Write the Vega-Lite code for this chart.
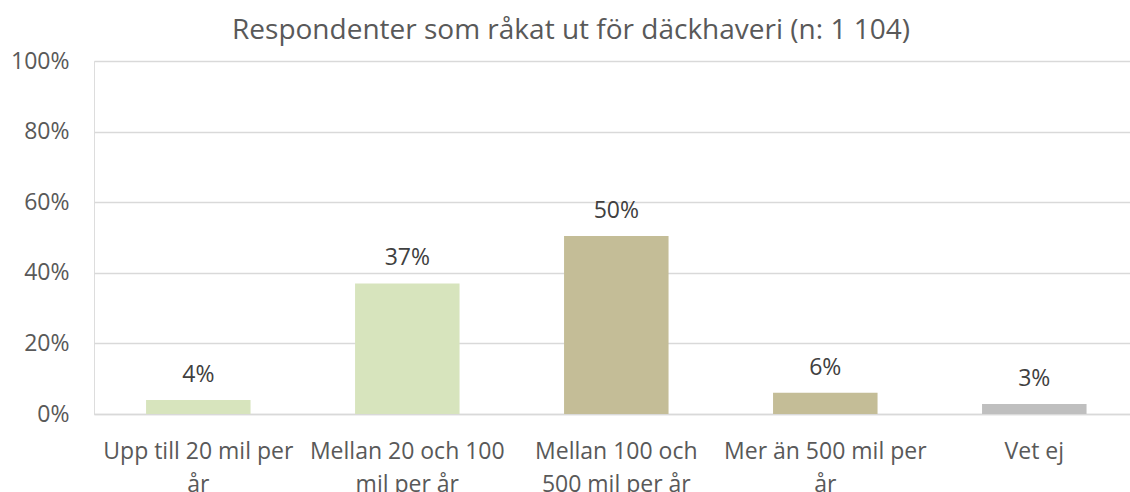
{
  "$schema": "https://vega.github.io/schema/vega-lite/v6.json",
  "autosize": "none",
  "width": 1036,
  "height": 353,
  "padding": {"left": 94, "top": 61, "right": 0, "bottom": 78},
  "background": "white",
  "title": {
    "text": "Respondenter som råkat ut för däckhaveri (n: 1 104)",
    "font": "Open Sans",
    "fontSize": 28,
    "fontWeight": "normal",
    "color": "#595959",
    "anchor": "middle",
    "dx": -41,
    "offset": 5
  },
  "data": {
    "values": [
      {"kategori": "Upp till 20 mil per år", "andel": 0.04, "grupp": "kort"},
      {"kategori": "Mellan 20 och 100 mil per år", "andel": 0.37, "grupp": "kort"},
      {"kategori": "Mellan 100 och 500 mil per år", "andel": 0.504, "grupp": "lång"},
      {"kategori": "Mer än 500 mil per år", "andel": 0.06, "grupp": "lång"},
      {"kategori": "Vet ej", "andel": 0.028, "grupp": "vet ej"}
    ]
  },
  "encoding": {
    "x": {
      "field": "kategori",
      "type": "nominal",
      "sort": null,
      "scale": {"paddingInner": 0.5, "paddingOuter": 0.2285, "align": 0.545},
      "axis": {
        "title": null,
        "labelAngle": 0,
        "labelFont": "Open Sans",
        "labelFontSize": 23,
        "labelColor": "#595959",
        "labelPadding": 26,
        "labelLineHeight": 33,
        "labelBaseline": "top",
        "labelLimit": 300,
        "ticks": false,
        "domain": true,
        "domainColor": "#d9d9d9",
        "domainWidth": 1.5,
        "labelExpr": "datum.label == 'Upp till 20 mil per år' ? ['Upp till 20 mil per', 'år'] : datum.label == 'Mellan 20 och 100 mil per år' ? ['Mellan 20 och 100', 'mil per år'] : datum.label == 'Mellan 100 och 500 mil per år' ? ['Mellan 100 och', '500 mil per år'] : datum.label == 'Mer än 500 mil per år' ? ['Mer än 500 mil per', 'år'] : datum.label"
      }
    },
    "y": {
      "field": "andel",
      "type": "quantitative",
      "scale": {"domain": [0, 1]},
      "axis": {
        "title": null,
        "format": ".0%",
        "values": [0, 0.2, 0.4, 0.6, 0.8, 1],
        "labelFont": "Open Sans",
        "labelFontSize": 23,
        "labelColor": "#595959",
        "labelPadding": 25,
        "ticks": false,
        "domain": false,
        "grid": true,
        "gridColor": "#d9d9d9",
        "gridWidth": 1.5
      }
    }
  },
  "layer": [
    {
      "mark": {"type": "bar"},
      "encoding": {
        "color": {
          "field": "grupp",
          "type": "nominal",
          "scale": {"domain": ["kort", "lång", "vet ej"], "range": ["#d7e4bd", "#c4bd97", "#bfbfbf"]},
          "legend": null
        }
      }
    },
    {
      "mark": {"type": "text", "baseline": "alphabetic", "dy": -18, "font": "Open Sans", "fontSize": 23, "color": "#404040"},
      "encoding": {
        "text": {"field": "andel", "type": "quantitative", "format": ".0%"}
      }
    }
  ]
}
